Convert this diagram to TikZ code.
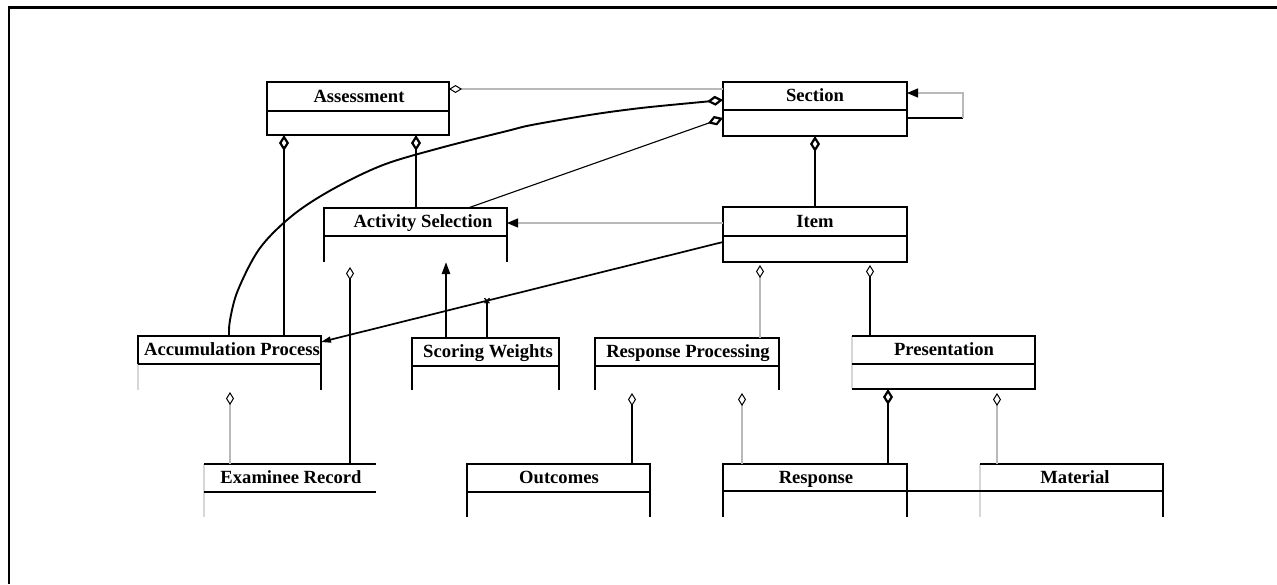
\documentclass[tikz,border=0pt]{standalone}
\usepackage{fontspec}
\setmainfont{Liberation Serif}
\usetikzlibrary{arrows.meta}
\definecolor{lgray}{RGB}{185,185,185}
\definecolor{ghost}{RGB}{215,215,215}
\tikzset{
  ag/.tip={Diamond[fill=white,length=13pt,width=8pt,line width=1pt,color=black]},
  agb/.tip={Diamond[fill=white,length=16pt,width=10pt,line width=2.2pt,color=black]},
  nv/.tip={Triangle[length=11pt,width=9pt,color=black]},
}
\begin{document}
\begin{tikzpicture}[x=1pt,y=-1pt,
  cls/.style={inner sep=0pt,outer sep=0pt,anchor=north west},
  ttl/.style={anchor=base,inner sep=0pt,font=\bfseries\fontsize{18.6}{22}\selectfont},
  frameline/.style={line width=2.4pt},
  outline/.style={line width=2.4pt,line join=miter},
  pale/.style={line width=2.4pt,draw=ghost},
  faint/.style={line width=1.1pt,draw=lgray},
  assoc/.style={line width=2.4pt},
  link/.style={line width=1.7pt},
]
\useasboundingbox (0,0) rectangle (1277,584);
\draw[frameline] (1277,7.5) -- (9,7.5) -- (9,584);

% ---- classes ----
% Assessment
\node[cls,minimum width=182pt,minimum height=53pt] (asmt) at (267,82) {};
\draw[outline] (asmt.north west) rectangle (asmt.south east);
\draw[outline] (asmt.west |- 0,111) -- (asmt.east |- 0,111);
\node[ttl] (asmt-t) at (359,102) {Assessment};

% Section
\node[cls,minimum width=184pt,minimum height=54pt] (sect) at (723,82) {};
\draw[outline] (sect.north west) rectangle (sect.south east);
\draw[outline] (sect.west |- 0,110) -- (sect.east |- 0,110);
\node[ttl] (sect-t) at (815,101) {Section};

% Item
\node[cls,minimum width=184pt,minimum height=55pt] (item) at (723,207) {};
\draw[outline] (item.north west) rectangle (item.south east);
\draw[outline] (item.west |- 0,236) -- (item.east |- 0,236);
\node[ttl] (item-t) at (815,227) {Item};

% Activity Selection
\node[cls,minimum width=183pt,minimum height=54pt] (act) at (324,208) {};
\draw[outline] (act.south west) -- (act.north west) -- (act.north east) -- (act.south east);
\draw[outline] (act.west |- 0,236) -- (act.east |- 0,236);
\node[ttl] (act-t) at (423,227) {Activity Selection};

% Accumulation Process
\node[cls,minimum width=183pt,minimum height=54pt] (acc) at (138,336) {};
\draw[outline] (acc.west |- 0,364) -- (acc.north west) -- (acc.north east) -- (acc.south east);
\draw[pale] (acc.west |- 0,364) -- (acc.south west);
\draw[outline] (acc.west |- 0,364) -- (acc.east |- 0,364);
\node[ttl] (acc-t) at (232,355) {Accumulation Process};

% Scoring Weights
\node[cls,minimum width=147pt,minimum height=52pt] (sw) at (412,338) {};
\draw[outline] (sw.south west) -- (sw.north west) -- (sw.north east) -- (sw.south east);
\draw[outline] (sw.west |- 0,366) -- (sw.east |- 0,366);
\node[ttl] (sw-t) at (488,357) {Scoring Weights};

% Response Processing
\node[cls,minimum width=184pt,minimum height=52pt] (rp) at (595,338) {};
\draw[outline] (rp.south west) -- (rp.north west) -- (rp.north east) -- (rp.south east);
\draw[outline] (rp.west |- 0,366) -- (rp.east |- 0,366);
\node[ttl] (rp-t) at (688,357) {Response Processing};

% Presentation
\node[cls,minimum width=183pt,minimum height=53pt] (pres) at (852,336) {};
\draw[pale] (pres.north west) -- (pres.south west);
\draw[outline] (pres.north west) -- (pres.north east) -- (pres.south east) -- (pres.south west);
\draw[outline] (pres.west |- 0,364) -- (pres.east |- 0,364);
\node[ttl] (pres-t) at (944,355) {Presentation};

% Examinee Record
\node[cls,minimum width=172pt,minimum height=53pt] (exam) at (204,464) {};
\draw[pale] (exam.north west) -- (exam.south west);
\draw[outline] (exam.north west) -- (exam.north east);
\draw[outline] (exam.west |- 0,492) -- (exam.east |- 0,492);
\node[ttl] (exam-t) at (291,483) {Examinee Record};

% Outcomes
\node[cls,minimum width=183pt,minimum height=53pt] (out) at (467,464) {};
\draw[outline] (out.south west) -- (out.north west) -- (out.north east) -- (out.south east);
\draw[outline] (out.west |- 0,492) -- (out.east |- 0,492);
\node[ttl] (out-t) at (559,483) {Outcomes};

% Response
\node[cls,minimum width=184pt,minimum height=53pt] (resp) at (723,464) {};
\draw[outline] (resp.south west) -- (resp.north west) -- (resp.north east) -- (resp.south east);
\draw[outline] (resp.west |- 0,491) -- (resp.east |- 0,491);
\node[ttl] (resp-t) at (816,483) {Response};

% Material
\node[cls,minimum width=183pt,minimum height=53pt] (mat) at (980,464) {};
\draw[pale] (mat.north west) -- (mat.south west);
\draw[outline] (mat.north west) -- (mat.north east) -- (mat.south east);
\draw[outline] (mat.west |- 0,491) -- (mat.east |- 0,491);
\node[ttl] (mat-t) at (1075,483) {Material};

% ---- associations ----
\draw[faint,ag-] (asmt.east |- 0,89) -- (sect.west |- 0,89);
\draw[line width=1.9pt,agb-] plot[smooth,tension=0.55] coordinates {
  (sect.west |- 0,100) (617,111) (537,124) (507,131) (440,148) (383,165) (333,189)
  (293,215) (260,248) (238,290) (230,320) (acc.north -| 229,0)};
\draw[line width=1.1pt,agb-] (sect.west |- 0,118) -- (act.north -| 468,0);
\draw[assoc,agb-] (asmt.south -| 284,0) -- (acc.north -| 284,0);
\draw[assoc,agb-] (asmt.south -| 416,0) -- (act.north -| 416,0);
\draw[assoc,agb-] (sect.south) -- (item.north);

% self association of Section
\coordinate (loop-a) at (963,118);
\coordinate (loop-b) at (963,93);
\draw[outline] (sect.east |- loop-a) -- (loop-a);
\draw[faint,-nv] (loop-a) -- (loop-b) -- (sect.east |- loop-b);

\draw[faint,-nv] (item.west |- 0,223) -- (act.east |- 0,223);
\draw[link,-{Triangle[length=10pt,width=6pt]}] (item.west |- 0,242) -- (acc.east |- 0,342);

% association class Scoring Weights
\coordinate (sw-j) at (487,300.7);
\draw[assoc] (sw.north -| sw-j) -- (sw-j);
\draw[line width=1.2pt] ([shift={(-2.5,-2.5)}]sw-j) -- ([shift={(2.5,2.5)}]sw-j)
  ([shift={(-2.5,2.5)}]sw-j) -- ([shift={(2.5,-2.5)}]sw-j);
\draw[assoc,-{Triangle[length=12pt,width=8pt]}] (sw.north -| 446,0) -- (act.south -| 446,0);

\draw[assoc,ag-,shorten <=5pt] (act.south -| 350,0) -- (exam.north -| 350,0);
\draw[faint,ag-,shorten <=2pt] (acc.south -| 230,0) -- (exam.north -| 230,0);
\draw[faint,ag-,shorten <=3pt] (item.south -| 760,0) -- (rp.north -| 760,0);
\draw[assoc,ag-,shorten <=3pt] (item.south -| 870,0) -- (pres.north -| 870,0);
\draw[assoc,ag-,shorten <=3pt] (rp.south -| 632,0) -- (out.north -| 632,0);
\draw[faint,ag-,shorten <=3pt] (rp.south -| 742,0) -- (resp.north -| 742,0);
\draw[assoc,agb-] (pres.south -| 888,0) -- (resp.north -| 888,0);
\draw[faint,ag-,shorten <=4pt] (pres.south -| 997,0) -- (mat.north -| 997,0);
\draw[outline] (resp.east |- 0,491) -- (mat.west |- 0,491);
\end{tikzpicture}
\end{document}
